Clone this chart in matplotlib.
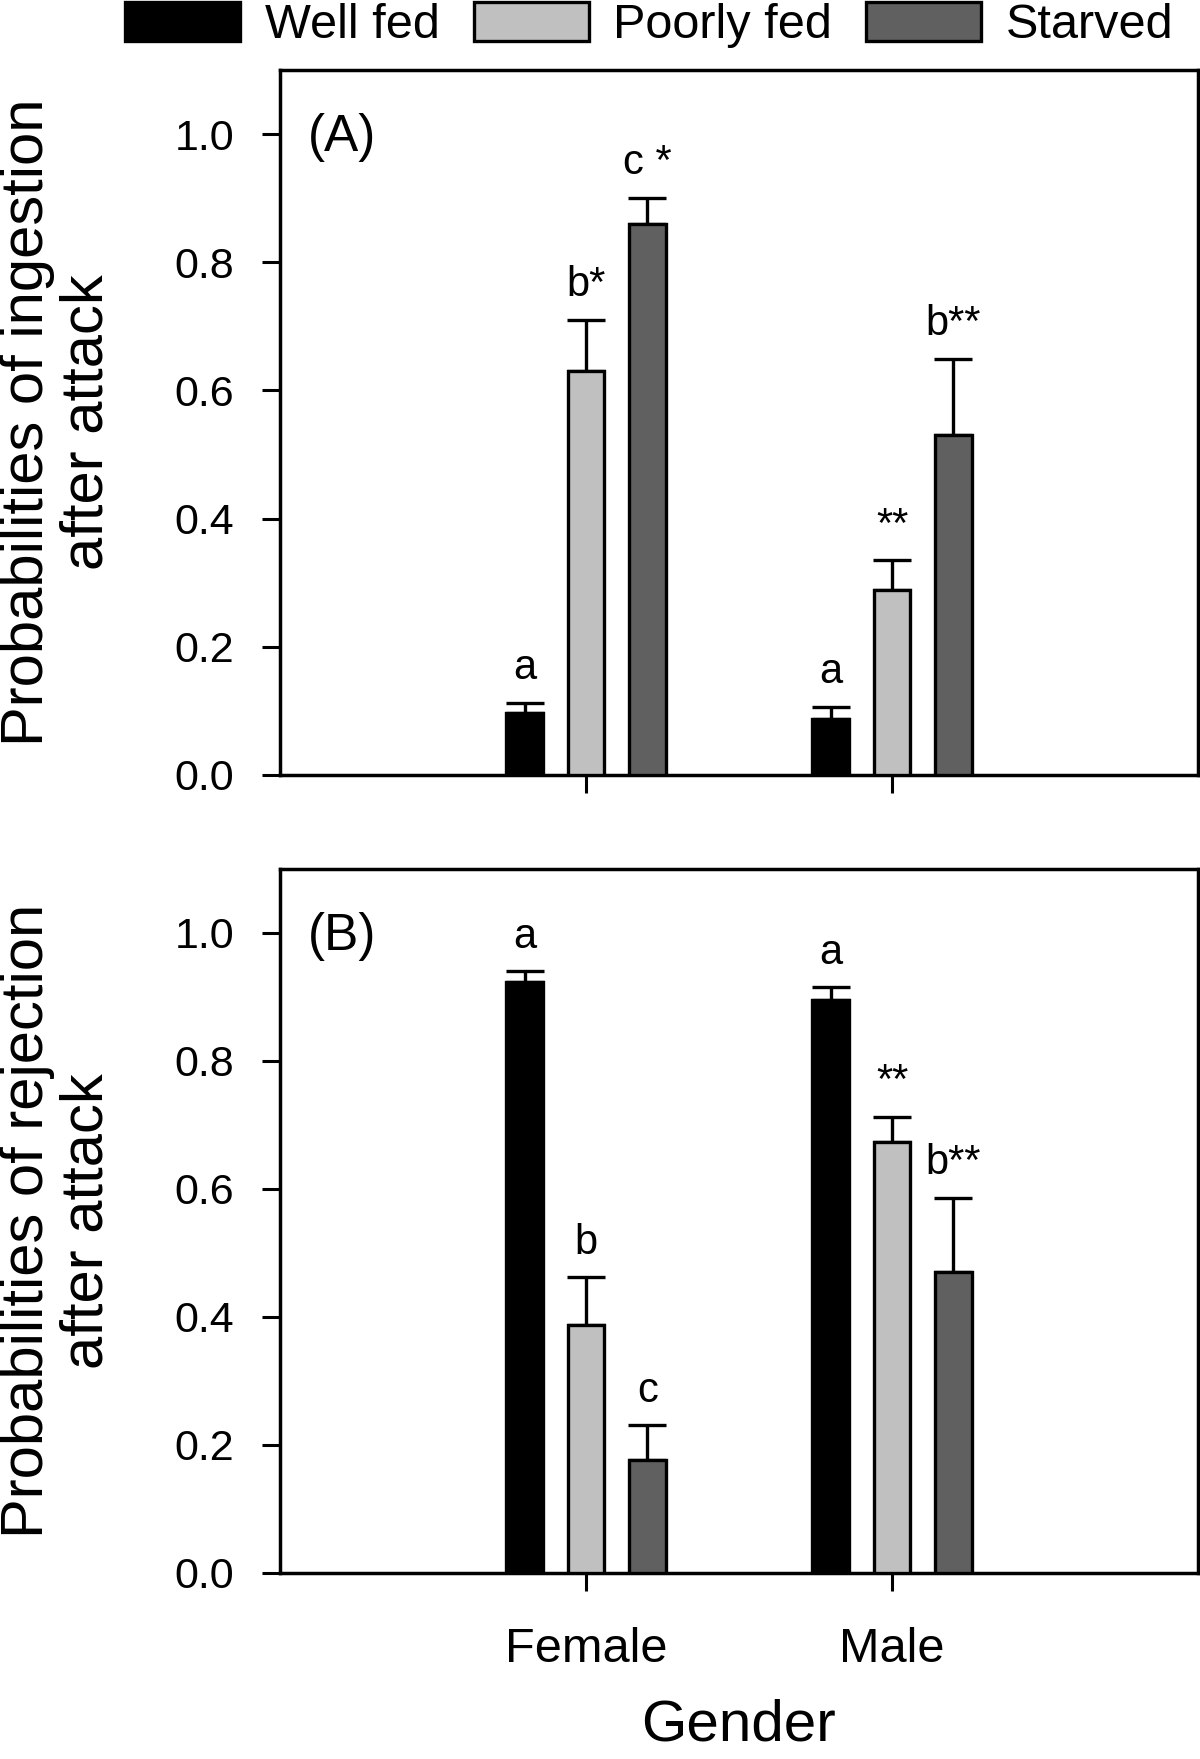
import matplotlib
matplotlib.use("Agg")
import matplotlib.pyplot as plt
import numpy as np

plt.rcParams['font.family'] = ['Liberation Sans', 'DejaVu Sans']

genders = ["Female", "Male"]
treatments = ["Well fed", "Poorly fed", "Starved"]
colors = ["#000000", "#c0c0c0", "#606060"]

# Panel A: ingestion probabilities (mean, SE) per treatment, [Female, Male]
ing_mean = {"Well fed": [0.097, 0.088], "Poorly fed": [0.630, 0.289], "Starved": [0.860, 0.531]}
ing_err = {"Well fed": [0.016, 0.018], "Poorly fed": [0.080, 0.046], "Starved": [0.041, 0.118]}
ing_labels = {"Well fed": ["a", "a"], "Poorly fed": ["b*", "**"], "Starved": ["c *", "b**"]}

# Panel B: rejection probabilities
rej_mean = {"Well fed": [0.923, 0.895], "Poorly fed": [0.387, 0.674], "Starved": [0.176, 0.470]}
rej_err = {"Well fed": [0.017, 0.020], "Poorly fed": [0.075, 0.039], "Starved": [0.055, 0.116]}
rej_labels = {"Well fed": ["a", "a"], "Poorly fed": ["b", "**"], "Starved": ["c", "b**"]}

yticks = [0.0, 0.2, 0.4, 0.6, 0.8, 1.0]

W, H = 1200, 1759
fig = plt.figure(figsize=(W / 100, H / 100), dpi=100)

def ax_rect(left, top, right, bottom):
    return [left / W, 1 - bottom / H, (right - left) / W, (bottom - top) / H]

axA = fig.add_axes(ax_rect(280, 70, 1198, 775))
axB = fig.add_axes(ax_rect(280, 869, 1198, 1573))

offsets = [-0.2, 0.0, 0.2]
width = 0.12
x = np.arange(1, len(genders) + 1)

def draw(ax, means, errs, labels, ylabel, tag, show_xlabels):
    for i, t in enumerate(treatments):
        xs = x + offsets[i]
        ax.bar(xs, means[t], width=width, color=colors[i], edgecolor="black",
               linewidth=2.4, label=t, zorder=3)
        ax.errorbar(xs, means[t], yerr=[np.zeros(len(xs)), errs[t]], fmt="none",
                    ecolor="black", elinewidth=2.4, capsize=14, capthick=2.4, zorder=2)
        for xi, m, e, lab in zip(xs, means[t], errs[t], labels[t]):
            ax.annotate(lab, (xi, m + e), xytext=(0, 17), textcoords="offset points",
                        ha="center", va="baseline", fontsize=30)
    ax.set_xlim(0, 3)
    ax.set_ylim(0, 1.1)
    ax.set_yticks(yticks)
    ax.set_yticklabels([f"{v:.1f}" for v in yticks])
    ax.set_xticks(x)
    if show_xlabels:
        ax.set_xticklabels(genders)
    else:
        ax.set_xticklabels([])
    ax.tick_params(axis="y", direction="out", length=13, width=2.2, labelsize=31, pad=20)
    ax.tick_params(axis="x", direction="out", length=13, width=2.2, labelsize=35, pad=26)
    for s in ax.spines.values():
        s.set_linewidth(2.5)
    ax.set_ylabel(ylabel, fontsize=43, va="center", linespacing=1.1, multialignment="center")
    ax.yaxis.set_label_coords(-0.243, 0.5)
    ax.text(0.0305, 0.939, tag, transform=ax.transAxes, fontsize=37, ha="left", va="top")

draw(axA, ing_mean, ing_err, ing_labels, "Probabilities of ingestion\nafter attack", "(A)", False)
draw(axB, rej_mean, rej_err, rej_labels, "Probabilities of rejection\nafter attack", "(B)", True)

axB.set_xlabel("Gender", fontsize=42)
axB.xaxis.set_label_coords(0.5, -0.178)

handles, labs = axA.get_legend_handles_labels()
fig.legend(handles, labs, loc="upper center", bbox_to_anchor=(0.541, 1.0), ncol=3,
           frameon=False, fontsize=35, handlelength=2.37, handleheight=0.83,
           handletextpad=0.5, columnspacing=0.7, borderaxespad=0.0, borderpad=0.05)

fig.savefig("out.png", dpi=100)
